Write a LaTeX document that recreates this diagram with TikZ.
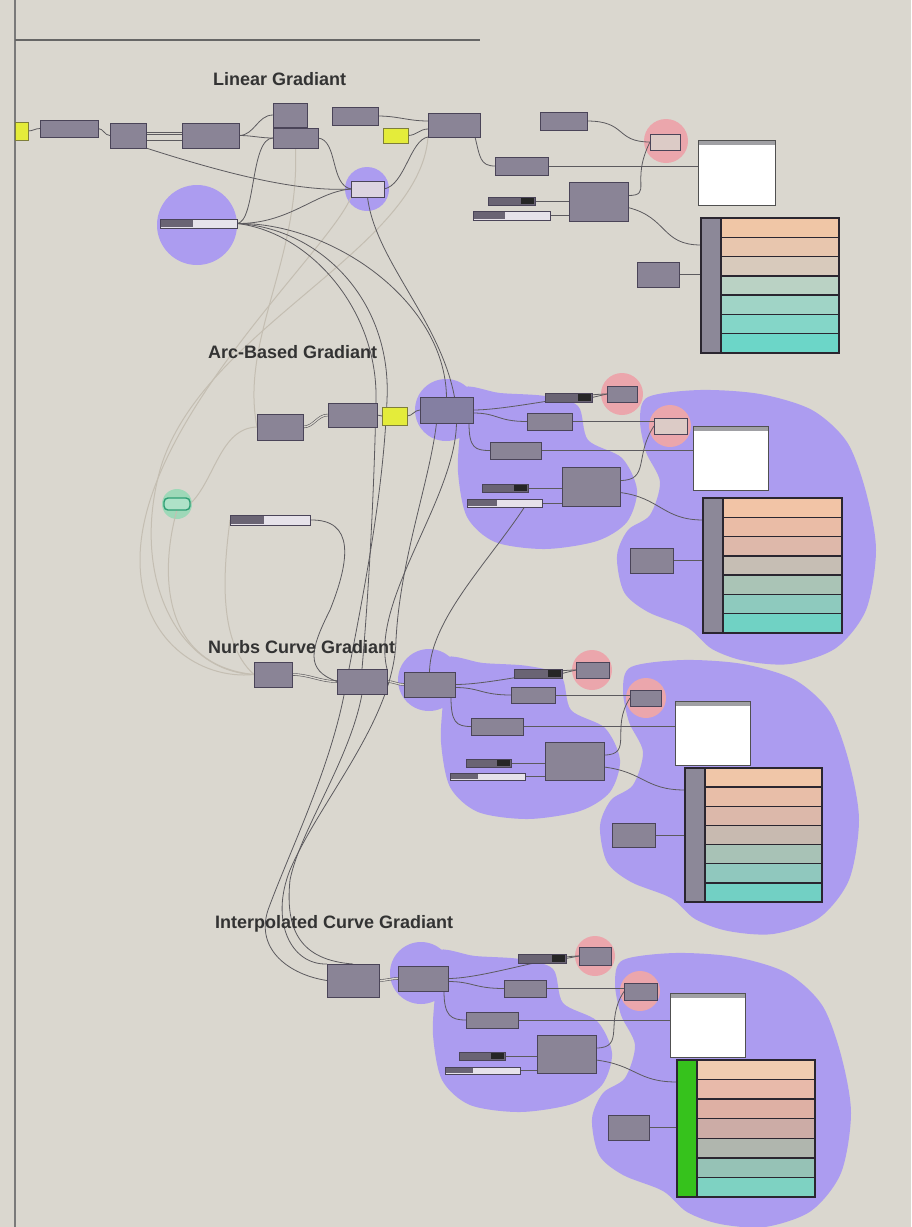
\documentclass[tikz,border=0pt]{standalone}
\usepackage{fontspec}
\setmainfont{Liberation Sans}
\usetikzlibrary{calc}
\pgfdeclarelayer{under}
\pgfdeclarelayer{wiring}
\pgfsetlayers{under,wiring,main}
\definecolor{bg}{HTML}{DAD7CF}
\definecolor{compfill}{HTML}{8A8496}
\definecolor{compedge}{HTML}{4A4458}
\definecolor{compblue}{HTML}{847FA2}
\definecolor{litefill}{HTML}{DCD4E0}
\definecolor{litered}{HTML}{DCCBC6}
\definecolor{ylw}{HTML}{E4EC3A}
\definecolor{ylwedge}{HTML}{7E7E3A}
\definecolor{grnedge}{HTML}{2E9E74}
\definecolor{grnfill}{HTML}{AEE2C8}
\definecolor{grnglow}{HTML}{9ED8B8}
\definecolor{blob}{HTML}{AC9CF0}
\definecolor{redglow}{HTML}{EBA6AC}
\definecolor{wire}{HTML}{5C5A5E}
\definecolor{ghost}{HTML}{C4BEB2}
\definecolor{titlec}{HTML}{333333}
\definecolor{slddark}{HTML}{6A6474}
\definecolor{sldlite}{HTML}{E6E2EA}
\definecolor{pnledge}{HTML}{505050}
\definecolor{pnlhead}{HTML}{A0A0A4}
\definecolor{strip}{HTML}{8C8898}
\definecolor{stripg}{HTML}{36C21C}
\definecolor{swline}{HTML}{2A2630}
\definecolor{edgeline}{HTML}{7A7A7A}
\definecolor{swA1}{HTML}{F0C6A6}\definecolor{swA2}{HTML}{E8C6AE}\definecolor{swA3}{HTML}{D8CABC}
\definecolor{swA4}{HTML}{BAD2C4}\definecolor{swA5}{HTML}{A0D4C6}\definecolor{swA6}{HTML}{84D6C8}\definecolor{swA7}{HTML}{6CD6C8}
\definecolor{swB1}{HTML}{F2C4A6}\definecolor{swB2}{HTML}{EABCA6}\definecolor{swB3}{HTML}{DEB8AA}
\definecolor{swB4}{HTML}{C6BEB4}\definecolor{swB5}{HTML}{AAC4B6}\definecolor{swB6}{HTML}{8ECABE}\definecolor{swB7}{HTML}{70D2C4}
\definecolor{swC1}{HTML}{F0C6A8}\definecolor{swC2}{HTML}{E8BEA8}\definecolor{swC3}{HTML}{DCB8AA}
\definecolor{swC4}{HTML}{C8BAB0}\definecolor{swC5}{HTML}{A8C2B6}\definecolor{swC6}{HTML}{90C8BE}\definecolor{swC7}{HTML}{72D0C4}
\definecolor{swD1}{HTML}{F0CCB0}\definecolor{swD2}{HTML}{E8BAAA}\definecolor{swD3}{HTML}{DEB0A4}
\definecolor{swD4}{HTML}{CCACA6}\definecolor{swD5}{HTML}{B0B6AE}\definecolor{swD6}{HTML}{96C2B6}\definecolor{swD7}{HTML}{7ED2C2}
\tikzset{
 comp/.style={draw=compedge, fill=compfill, line width=0.9pt, inner sep=0pt, outer sep=0pt, anchor=north west},
 compb/.style={comp, fill=compblue},
 lite/.style={comp, fill=litefill},
 lite2/.style={comp, fill=litered},
 yel/.style={comp, fill=ylw, draw=ylwedge},
 grn/.style={draw=grnedge, fill=grnfill, line width=1.4pt, inner sep=0pt, outer sep=0pt, anchor=north west, rounded corners=4pt},
 wr/.style={draw=wire, line width=0.8pt},
 dbl/.style={draw=wire, line width=0.6pt, double=bg, double distance=1.3pt},
 gh/.style={draw=ghost, line width=1pt},
 ttl/.style={font=\fontsize{18}{21}\selectfont\bfseries, text=titlec, anchor=base west, inner sep=0pt},
}
\newcommand\gb[6][comp]{\node[#1, minimum width=#5pt, minimum height=#6pt] (#2) at (#3,#4) {};}
\newcommand\sldk[5]{\node[comp, fill=slddark, minimum width=#4pt, minimum height=#5pt] (#1) at (#2,#3) {};
 \fill[black!85] (#2+#4-14,#3+1) rectangle (#2+#4-1,#3+#5-1);}
\newcommand\sldl[6]{\node[comp, fill=sldlite, minimum width=#4pt, minimum height=#5pt] (#1) at (#2,#3) {};
 \fill[slddark] (#2+1,#3+1) rectangle (#2+#6,#3+#5-1);}
\newcommand\pnl[5]{\node[draw=pnledge, fill=white, line width=1pt, inner sep=0pt, outer sep=0pt, anchor=north west, minimum width=#4pt, minimum height=#5pt] (#1) at (#2,#3) {};
 \fill[pnlhead] (#2,#3) rectangle (#2+#4,#3+5);
 \draw[pnledge, line width=1pt] (#2,#3) rectangle (#2+#4,#3+#5);}
\newcommand\swt[7]{\node[anchor=north west, inner sep=0pt, outer sep=0pt, minimum width=#4pt, minimum height=#5pt] (#1) at (#2,#3) {};
 \fill[#6] (#2,#3) rectangle (#2+20,#3+#5);
 \foreach \i in {1,...,7}{\fill[fill=#7\i] (#2+20,{#3+(\i-1)*#5/7}) rectangle (#2+#4,{#3+\i*#5/7});}
 \foreach \i in {1,...,6}{\draw[swline, line width=1.4pt] (#2+20,{#3+\i*#5/7}) -- (#2+#4,{#3+\i*#5/7});}
 \draw[swline, line width=1.4pt] (#2+20,#3) -- (#2+20,#3+#5);
 \draw[swline, line width=2.2pt] (#2,#3) rectangle (#2+#4,#3+#5);}
\newcommand\blobL{\fill[blob] plot[smooth cycle] coordinates {(462,388) (500,393) (545,396) (578,406) (588,440) (622,458) (637,490) (627,522) (597,541) (545,549) (495,542) (467,517) (458,472) (460,430)};
 \fill[blob] (446,410) circle (31);}
\newcommand\blobR{\fill[blob] plot[smooth cycle] coordinates {(648,397) (700,390) (760,394) (812,410) (847,442) (866,492) (876,550) (866,610) (836,648) (790,664) (745,661) (712,649) (688,628) (648,612) (624,592) (617,556) (628,530) (650,515) (660,482) (646,452) (640,420)};}
\newcommand\secwires[1]{%
 \draw[wr] (#1m.east) .. controls +(35,0) and +(-30,0) .. (#1ra.west);
 \draw[wr] (#1sa.east) -- (#1ra.west);
 \draw[wr] ([yshift=-3pt]#1m.east) .. controls +(25,0) and +(-30,0) .. (#14.west);
 \draw[wr] (#14.east) -- (#14.east -| #1rb.west);
 \draw[wr] ([xshift=-4pt]#1m.south east) .. controls +(0,25) and +(-15,0) .. (#15.west);
 \draw[wr] (#15.east) -- (#15.east -| #1p.west);
 \draw[wr] (#1sb.east) -- (#1sb.east -| #16.west);
 \draw[wr] (#1sc.east) -- (#1sc.east -| #16.west);
 \draw[wr] ([yshift=6pt]#16.east) .. controls +(30,0) and +(-20,30) .. (#1rb.west);
 \draw[wr] ([yshift=-6pt]#16.east) .. controls +(40,5) and +(-40,0) .. ($(#1sw.north west)+(0,22)$);
 \draw[wr] (#17.east) -- (#17.east -| #1sw.west);}
\begin{document}
\begin{tikzpicture}[x=1pt,y=-1pt]
\useasboundingbox (0,0) rectangle (911,1227);
\begin{pgfonlayer}{under}
 \fill[bg] (0,0) rectangle (911,1227);
 \draw[edgeline, line width=2pt] (15,0) -- (15,1227);
 \draw[black!60, line width=1.4pt] (15,40) -- (480,40);
 % section 1 blobs
 \fill[blob] (197,225) circle (40);
 \fill[blob] (367,189) circle (22);
 % section 2-4 blobs
 \blobL \blobR
 \begin{scope}[shift={(-17,270)}]\blobL \blobR\end{scope}
 \begin{scope}[shift={(-25,563)}]\blobL \blobR\end{scope}
 % glows
 \fill[redglow] (666,141) circle (22);
 \fill[redglow] (622,394) circle (21);
 \fill[redglow] (670,426) circle (21);
 \fill[redglow] (592,670) circle (20);
 \fill[redglow] (646,698) circle (20);
 \fill[redglow] (595,956) circle (20);
 \fill[redglow] (640,991) circle (20);
 \fill[grnglow] (177,504) circle (15);
\end{pgfonlayer}
% titles
\node[ttl] (t1) at (213,85) {Linear Gradiant};
\node[ttl] (t2) at (208,358) {Arc-Based Gradiant};
\node[ttl] (t3) at (208,653) {Nurbs Curve Gradiant};
\node[ttl] (t4) at (215,928) {Interpolated Curve Gradiant};
% section 1
\gb[yel]{Ay1}{15}{122}{13}{18}
\gb{A1}{40}{120}{58}{17}
\gb{A2}{110}{123}{36}{25}
\gb{A3}{182}{123}{57}{25}
\gb{A4}{273}{103}{34}{24}
\gb{A5}{273}{128}{45}{20}
\gb{A6}{332}{107}{46}{18}
\gb[yel]{Ay2}{383}{128}{25}{15}
\gb{Am}{428}{113}{52}{24}
\gb{A8}{540}{112}{47}{18}
\gb[lite2]{Ar}{650}{134}{30}{16}
\pnl{Ap}{698}{140}{77}{65}
\gb{A9}{495}{157}{53}{18}
\sldk{Asa}{488}{197}{47}{8}
\sldl{Asb}{473}{211}{77}{9}{32}
\gb{A10}{569}{182}{59}{39}
\gb{A11}{637}{262}{42}{25}
\swt{Asw}{701}{218}{138}{135}{strip}{swA}
\gb[lite]{Ac}{351}{181}{33}{16}
\sldl{As}{160}{219}{77}{9}{33}
% section 2
\node[grn, minimum width=26pt, minimum height=12pt] (G) at (164,498) {};
\sldl{S2}{230}{515}{80}{10}{34}
\gb{B1}{257}{414}{46}{26}
\gb{B2}{328}{403}{49}{24}
\gb[yel]{By}{382}{407}{25}{18}
\gb[compb]{Bm}{420}{397}{53}{26}
\sldk{Bsa}{545}{393}{47}{9}
\gb{Bra}{607}{386}{30}{16}
\gb{B4}{527}{413}{45}{17}
\gb[lite2]{Brb}{654}{418}{33}{16}
\pnl{Bp}{693}{426}{75}{64}
\gb{B5}{490}{442}{51}{17}
\sldk{Bsb}{482}{484}{46}{8}
\sldl{Bsc}{467}{499}{75}{8}{30}
\gb{B6}{562}{467}{58}{39}
\gb{B7}{630}{548}{43}{25}
\swt{Bsw}{703}{498}{139}{135}{strip}{swB}
% section 3
\gb{C1}{254}{662}{38}{25}
\gb{C2}{337}{669}{50}{25}
\gb{Cm}{404}{672}{51}{25}
\sldk{Csa}{514}{669}{48}{9}
\gb{Cra}{576}{662}{33}{16}
\gb{C4}{511}{687}{44}{16}
\gb{Crb}{630}{690}{31}{16}
\pnl{Cp}{675}{701}{75}{64}
\gb{C5}{471}{718}{52}{17}
\sldk{Csb}{466}{759}{45}{8}
\sldl{Csc}{450}{773}{75}{7}{28}
\gb{C6}{545}{742}{59}{38}
\gb{C7}{612}{823}{43}{24}
\swt{Csw}{685}{768}{137}{134}{strip}{swC}
% section 4
\gb{D1}{327}{964}{52}{33}
\gb{Dm}{398}{966}{50}{25}
\sldk{Dsa}{518}{954}{48}{9}
\gb{Dra}{579}{947}{32}{18}
\gb{D4}{504}{980}{42}{17}
\gb{Drb}{624}{983}{33}{17}
\pnl{Dp}{670}{993}{75}{64}
\gb{D5}{466}{1012}{52}{16}
\sldk{Dsb}{459}{1052}{46}{8}
\sldl{Dsc}{445}{1067}{75}{7}{28}
\gb{D6}{537}{1035}{59}{38}
\gb{D7}{608}{1115}{41}{25}
\swt{Dsw}{677}{1060}{138}{137}{stripg}{swD}
% wires
\begin{pgfonlayer}{wiring}
 % ghost wires
 \draw[gh] (Am.south west) .. controls (420,250) and (200,330) .. (160,470) .. controls (130,580) and (180,672) .. (C1.west);
 \draw[gh] (A5.south) .. controls (300,260) and (240,340) .. (B1.west);
 \draw[gh] (G.east) .. controls (215,480) and (220,428) .. (B1.west);
 \draw[gh] (G.south) .. controls (160,570) and (160,665) .. (C1.west);
 \draw[gh] (S2.west) .. controls (225,560) and (215,640) .. (C1.west);
 \draw[gh] (Ac.south west) .. controls (330,250) and (140,420) .. (140,560) .. controls (140,640) and (200,680) .. (C1.west);
 % section 1
 \draw[wr] (Ay1.east) to[out=0,in=180] (A1.west);
 \draw[wr] (A1.east) to[out=0,in=180] (A2.west);
 \draw[dbl] ([yshift=2pt]A2.east) -- ([yshift=2pt]A2.east -| A3.west);
 \draw[wr] ([yshift=-5pt]A2.east) -- ([yshift=-5pt]A2.east -| A3.west);
 \draw[wr] (A3.east) to[out=0,in=180] (A4.west);
 \draw[wr] (A3.east) to[out=0,in=180] (A5.west);
 \draw[wr] (A2.south east) .. controls (230,175) and (300,192) .. (Ac.west);
 \draw[dbl] (A4.east) -- (A4.east -| A6.west);
 \draw[wr] (A6.east) to[out=0,in=180] ([yshift=4pt]Am.west);
 \draw[wr] (Ay2.east) to[out=0,in=180] ([yshift=-4pt]Am.west);
 \draw[wr] (A5.east) .. controls (338,140) and (330,185) .. (Ac.west);
 \draw[wr] (As.east) .. controls (290,224) and (315,192) .. (Ac.west);
 \draw[wr] (Ac.east) .. controls (405,185) and (410,140) .. (Am.south west);
 \draw[wr] (A5.west) .. controls (250,138) and (256,222) .. (As.east);
 \draw[dbl] (Am.east) -- (Am.east -| A8.west);
 \draw[wr] ([xshift=-5pt]Am.south east) .. controls +(5,20) and +(-15,0) .. (A9.west);
 \draw[wr] (A8.east) .. controls +(40,0) and +(-35,0) .. (Ar.west);
 \draw[wr] (A9.east) -- (A9.east -| Ap.west);
 \draw[wr] (Asa.east) -- (Asa.east -| A10.west);
 \draw[wr] (Asb.east) -- (Asb.east -| A10.west);
 \draw[wr] ([yshift=6pt]A10.east) .. controls +(25,0) and +(-20,40) .. (Ar.west);
 \draw[wr] ([yshift=-6pt]A10.east) .. controls +(40,10) and +(-40,0) .. ($(Asw.north west)+(0,27)$);
 \draw[wr] (A11.east) -- (A11.east -| Asw.west);
 % chains
 \draw[dbl] (B1.east) to[out=0,in=180] (B2.west);
 \draw[wr] (B2.east) to[out=0,in=180] (By.west);
 \draw[wr] (By.east) to[out=0,in=180] (Bm.west);
 \draw[dbl] (C1.east) to[out=0,in=180] (C2.west);
 \draw[dbl] (C2.east) to[out=0,in=180] (Cm.west);
 \draw[dbl] (D1.east) to[out=0,in=180] (Dm.west);
 \secwires{B}
 \secwires{C}
 \secwires{D}
 % long wires between sections
 \draw[wr] (As.east) .. controls (330,222) and (445,300) .. (Bm.north);
 \draw[wr] (Ac.south) .. controls (375,260) and (440,320) .. ([xshift=8pt]Bm.north);
 \draw[wr] (As.east) .. controls (320,228) and (392,300) .. (387,400) .. controls (383,500) and (362,600) .. (345,690) .. controls (330,770) and (290,850) .. (268,910) .. controls (255,950) and (290,975) .. (D1.west);
 \draw[wr] (As.east) .. controls (310,232) and (378,310) .. (376,400) .. controls (374,500) and (368,600) .. (C2.north);
 \draw[wr] ([xshift=-10pt]Bm.south) .. controls (430,480) and (400,560) .. (396,640) .. controls (394,720) and (320,800) .. (290,870) .. controls (270,920) and (290,965) .. (D1.north west);
 \draw[wr] ([xshift=10pt]Bm.south) .. controls (455,500) and (370,600) .. (C2.north east);
 \draw[wr] ([xshift=20pt]Bsc.south) .. controls (490,560) and (430,620) .. (Cm.north);
 \draw[wr] (C2.south) .. controls (350,760) and (300,830) .. (290,880) .. controls (285,930) and (300,960) .. (D1.north);
 \draw[wr] (S2.east) .. controls (355,519) and (350,560) .. (330,610) .. controls (310,650) and (305,670) .. (C2.west);
\end{pgfonlayer}
\end{tikzpicture}
\end{document}
